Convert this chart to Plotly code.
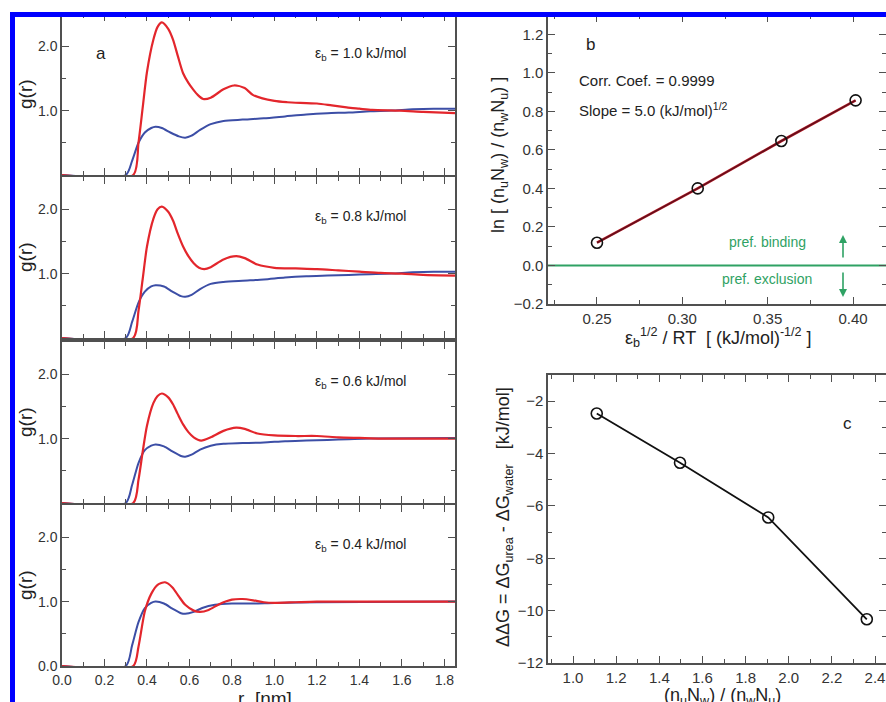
import plotly.graph_objects as go

W, H = 886, 702
FONT = "Liberation Sans, Arial, sans-serif"
RED = "#e3262c"
BLUE = "#3c4ea6"
GREEN = "#2fa264"
AX = "#505050"

# ---------------- data: panel a (g(r)) ----------------
eps_labels = ["1.0", "0.8", "0.6", "0.4"]

r_red_1 = [0.0, 0.335, 0.36, 0.38, 0.40, 0.43, 0.45, 0.47, 0.50, 0.523, 0.545, 0.57, 0.595, 0.617, 0.64, 0.665, 0.70, 0.76, 0.81, 0.86, 0.90, 1.0, 1.06, 1.2, 1.27, 1.34, 1.40, 1.46, 1.59, 1.70, 1.85]
g_red_1 = [0.0, 0.0, 0.50, 1.05, 1.60, 2.10, 2.30, 2.37, 2.27, 2.10, 1.85, 1.58, 1.43, 1.33, 1.24, 1.18, 1.20, 1.33, 1.39, 1.35, 1.24, 1.15, 1.13, 1.11, 1.08, 1.05, 1.03, 1.01, 1.00, 0.98, 0.96]
r_blue_1 = [0.0, 0.30, 0.33, 0.36, 0.39, 0.42, 0.44, 0.47, 0.51, 0.55, 0.58, 0.61, 0.65, 0.70, 0.76, 0.85, 0.95, 1.05, 1.15, 1.25, 1.35, 1.45, 1.55, 1.65, 1.75, 1.85]
g_blue_1 = [0.0, 0.0, 0.22, 0.50, 0.66, 0.73, 0.75, 0.73, 0.66, 0.60, 0.58, 0.61, 0.70, 0.79, 0.84, 0.86, 0.88, 0.91, 0.94, 0.96, 0.97, 0.99, 1.00, 1.02, 1.03, 1.03]

r_red_2 = [0.0, 0.335, 0.36, 0.38, 0.40, 0.43, 0.45, 0.47, 0.50, 0.523, 0.545, 0.57, 0.595, 0.62, 0.645, 0.67, 0.70, 0.76, 0.82, 0.86, 0.92, 1.0, 1.1, 1.2, 1.3, 1.4, 1.5, 1.6, 1.7, 1.85]
g_red_2 = [0.0, 0.0, 0.42, 0.92, 1.42, 1.85, 2.00, 2.04, 1.96, 1.82, 1.62, 1.42, 1.27, 1.16, 1.09, 1.07, 1.10, 1.22, 1.27, 1.24, 1.14, 1.09, 1.08, 1.07, 1.05, 1.03, 1.01, 1.00, 0.98, 0.97]
r_blue_2 = [0.0, 0.30, 0.33, 0.36, 0.39, 0.42, 0.44, 0.48, 0.52, 0.56, 0.58, 0.61, 0.65, 0.70, 0.76, 0.85, 0.95, 1.05, 1.15, 1.25, 1.35, 1.45, 1.55, 1.65, 1.75, 1.85]
g_blue_2 = [0.0, 0.0, 0.25, 0.55, 0.72, 0.80, 0.82, 0.80, 0.72, 0.65, 0.64, 0.67, 0.76, 0.84, 0.87, 0.89, 0.91, 0.94, 0.96, 0.97, 0.98, 0.99, 1.00, 1.02, 1.03, 1.03]

r_red_3 = [0.0, 0.335, 0.36, 0.38, 0.40, 0.43, 0.45, 0.47, 0.50, 0.523, 0.545, 0.57, 0.595, 0.62, 0.655, 0.70, 0.76, 0.82, 0.86, 0.92, 1.0, 1.1, 1.2, 1.3, 1.4, 1.5, 1.6, 1.7, 1.85]
g_red_3 = [0.0, 0.0, 0.36, 0.80, 1.20, 1.55, 1.66, 1.70, 1.64, 1.53, 1.38, 1.22, 1.10, 1.02, 0.97, 1.02, 1.12, 1.17, 1.15, 1.08, 1.05, 1.04, 1.04, 1.02, 1.01, 1.00, 1.00, 1.00, 1.00]
r_blue_3 = [0.0, 0.30, 0.33, 0.36, 0.39, 0.42, 0.44, 0.48, 0.52, 0.56, 0.58, 0.61, 0.65, 0.70, 0.76, 0.85, 0.95, 1.05, 1.15, 1.25, 1.35, 1.45, 1.85]
g_blue_3 = [0.0, 0.0, 0.28, 0.62, 0.82, 0.89, 0.91, 0.88, 0.80, 0.73, 0.72, 0.75, 0.83, 0.89, 0.92, 0.93, 0.94, 0.96, 0.97, 0.98, 0.99, 1.00, 1.01]

r_red_4 = [0.0, 0.335, 0.36, 0.39, 0.42, 0.45, 0.485, 0.52, 0.55, 0.58, 0.62, 0.65, 0.69, 0.74, 0.80, 0.85, 0.90, 0.95, 1.0, 1.1, 1.2, 1.85]
g_red_4 = [0.0, 0.0, 0.30, 0.85, 1.12, 1.26, 1.30, 1.22, 1.08, 0.95, 0.86, 0.84, 0.87, 0.96, 1.03, 1.04, 1.02, 0.99, 0.98, 0.99, 1.00, 1.00]
r_blue_4 = [0.0, 0.30, 0.33, 0.36, 0.39, 0.42, 0.44, 0.48, 0.52, 0.56, 0.58, 0.62, 0.66, 0.72, 0.80, 0.90, 1.0, 1.2, 1.85]
g_blue_4 = [0.0, 0.0, 0.32, 0.68, 0.90, 0.98, 1.00, 0.97, 0.89, 0.82, 0.81, 0.84, 0.90, 0.95, 0.97, 0.97, 0.98, 0.99, 1.00]

red_r = [r_red_1, r_red_2, r_red_3, r_red_4]
red_g = [g_red_1, g_red_2, g_red_3, g_red_4]
blue_r = [r_blue_1, r_blue_2, r_blue_3, r_blue_4]
blue_g = [g_blue_1, g_blue_2, g_blue_3, g_blue_4]

# ---------------- data: panel b ----------------
b_x = [0.250, 0.309, 0.358, 0.4015]
b_y = [0.118, 0.400, 0.646, 0.857]

# ---------------- data: panel c ----------------
c_x = [1.11, 1.496, 1.905, 2.362]
c_y = [-2.47, -4.35, -6.44, -10.33]


def px(x):
    return x / W


def py(y):
    return 1 - y / H


def note(x, y, text, size, color="#222", angle=0, xa="center", ya="middle"):
    return dict(x=px(x), y=py(y), xref="paper", yref="paper", text=text, textangle=angle,
                xanchor=xa, yanchor=ya, showarrow=False,
                font=dict(family=FONT, size=size, color=color))


fig = go.Figure()

panels = [(14, 175), (177, 338), (342, 503), (505, 666)]
LX0, LX1 = 62, 455

base_ax = dict(
    showline=True, linecolor=AX, linewidth=1.5, mirror="allticks",
    ticks="inside", ticklen=7, tickwidth=1.4, tickcolor=AX,
    showgrid=False, zeroline=False,
    tickfont=dict(family=FONT, size=14, color="#333"),
)

layout = dict(
    width=W, height=H, margin=dict(l=0, r=0, t=0, b=0, autoexpand=False),
    paper_bgcolor="white", plot_bgcolor="white", showlegend=False,
    font=dict(family=FONT, color="#222"),
)

annotations = []

for i in range(4):
    k = i + 1
    xa = "x" if k == 1 else f"x{k}"
    ya = "y" if k == 1 else f"y{k}"
    top, bot = panels[i]
    xkey = "xaxis" if k == 1 else f"xaxis{k}"
    ykey = "yaxis" if k == 1 else f"yaxis{k}"
    layout[xkey] = dict(
        base_ax, domain=[px(LX0), px(LX1)], range=[0, 1.85], anchor=ya,
        tick0=0, dtick=0.2, tickformat=".1f",
        minor=dict(ticks="inside", ticklen=4, tickwidth=1.2, tickcolor=AX, dtick=0.1, tick0=0),
        showticklabels=(k == 4),
    )
    layout[ykey] = dict(
        base_ax, domain=[py(bot), py(top)], range=[0, 2.5], anchor=xa,
        tickvals=[0, 1, 2] if k == 4 else [1, 2],
        ticktext=["0.0", "1.0", "2.0"] if k == 4 else ["1.0", "2.0"],
        minor=dict(ticks="inside", ticklen=4, tickwidth=1.2, tickcolor=AX, dtick=0.5, tick0=0),
    )
    fig.add_trace(go.Scatter(x=blue_r[i], y=blue_g[i], mode="lines", xaxis=xa, yaxis=ya,
                             line=dict(color=BLUE, width=2, shape="spline", smoothing=0.7)))
    fig.add_trace(go.Scatter(x=red_r[i], y=red_g[i], mode="lines", xaxis=xa, yaxis=ya,
                             line=dict(color=RED, width=2.2, shape="spline", smoothing=0.7)))
    annotations.append(note(25, bot - 81, "g(r)", 19, angle=-90))
    annotations.append(note(313, bot - 121, f"ε<sub>b</sub> = {eps_labels[i]} kJ/mol", 14, xa="left"))

annotations.append(note(101, 53, "a", 17))
annotations.append(note(265, 686, "r  [nm]", 19, ya="top"))

# ---------------- panel b ----------------
layout["xaxis5"] = dict(
    base_ax, domain=[px(548), 1.0], range=[0.2213, 0.4193], anchor="y5",
    tick0=0.25, dtick=0.05, tickformat=".2f",
    minor=dict(ticks="inside", ticklen=4, tickwidth=1.2, tickcolor=AX, dtick=0.025, tick0=0.25),
    tickfont=dict(family=FONT, size=15, color="#333"),
)
layout["yaxis5"] = dict(
    base_ax, domain=[py(304), py(15)], range=[-0.2, 1.3], anchor="x5",
    tick0=-0.2, dtick=0.2, tickformat=".1f",
    minor=dict(ticks="inside", ticklen=4, tickwidth=1.2, tickcolor=AX, dtick=0.1, tick0=0),
    tickfont=dict(family=FONT, size=15, color="#333"),
)
fig.add_trace(go.Scatter(x=[0.2213, 0.4193], y=[0, 0], mode="lines", xaxis="x5", yaxis="y5",
                         line=dict(color=GREEN, width=2)))
fig.add_trace(go.Scatter(x=b_x, y=b_y, mode="lines", xaxis="x5", yaxis="y5",
                         line=dict(color="#c0202a", width=2.6)))
fig.add_trace(go.Scatter(x=b_x, y=b_y, mode="lines", xaxis="x5", yaxis="y5",
                         line=dict(color="#1a0010", width=1.6), opacity=0.55))
fig.add_trace(go.Scatter(x=b_x, y=b_y, mode="markers", xaxis="x5", yaxis="y5",
                         marker=dict(symbol="circle-open", size=11, color="#111", line=dict(width=1.6))))

annotations += [
    note(590, 45, "b", 17),
    note(577, 80, "Corr. Coef. = 0.9999", 15, xa="left"),
    note(577, 110, "Slope = 5.0 (kJ/mol)<sup>1/2</sup>", 15, xa="left"),
    note(767, 242, "pref. binding", 14, color=GREEN),
    note(767, 279, "pref. exclusion", 14, color=GREEN),
    dict(x=px(843), y=py(235), xref="paper", yref="paper", ax=0, ay=24, text="", showarrow=True,
         arrowhead=2, arrowsize=1, arrowwidth=1.6, arrowcolor=GREEN),
    dict(x=px(843), y=py(297), xref="paper", yref="paper", ax=0, ay=-26, text="", showarrow=True,
         arrowhead=2, arrowsize=1, arrowwidth=1.6, arrowcolor=GREEN),
    note(500, 155, "ln [ (n<sub>u</sub>N<sub>w</sub>) / (n<sub>w</sub>N<sub>u</sub>) ]", 18, angle=-90),
    note(718, 337, "ε<sub>b</sub><sup>1/2</sup> / RT  [ (kJ/mol)<sup>-1/2</sup> ]", 18),
]

# ---------------- panel c ----------------
layout["xaxis6"] = dict(
    base_ax, domain=[px(548), 1.0], range=[0.884, 2.451], anchor="y6",
    tick0=1.0, dtick=0.2, tickformat=".1f",
    minor=dict(ticks="inside", ticklen=4, tickwidth=1.2, tickcolor=AX, dtick=0.1, tick0=1.0),
    tickfont=dict(family=FONT, size=15, color="#333"),
)
layout["yaxis6"] = dict(
    base_ax, domain=[py(663), py(375)], range=[-12, -1], anchor="x6",
    tick0=-12, dtick=2,
    minor=dict(ticks="inside", ticklen=4, tickwidth=1.2, tickcolor=AX, dtick=1, tick0=-12),
    tickfont=dict(family=FONT, size=15, color="#333"),
)
fig.add_trace(go.Scatter(x=c_x, y=c_y, mode="lines+markers", xaxis="x6", yaxis="y6",
                         line=dict(color="#111", width=1.8),
                         marker=dict(symbol="circle-open", size=11, color="#111", line=dict(width=1.6))))
annotations += [
    note(847, 423, "c", 17),
    note(504, 517, "ΔΔG = ΔG<sub>urea</sub> - ΔG<sub>water</sub>   [kJ/mol]", 18, angle=-90),
    note(722, 683, "(n<sub>u</sub>N<sub>w</sub>) / (n<sub>w</sub>N<sub>u</sub>)", 18, ya="top"),
]

layout["annotations"] = annotations
layout["shapes"] = [
    dict(type="rect", xref="paper", yref="paper", x0=px(12.5), y0=-0.2, x1=1.2, y1=py(14.5),
         line=dict(color="#0000ff", width=5), fillcolor="rgba(0,0,0,0)", layer="above"),
]

fig.update_layout(**layout)
fig.write_html("out.html")
